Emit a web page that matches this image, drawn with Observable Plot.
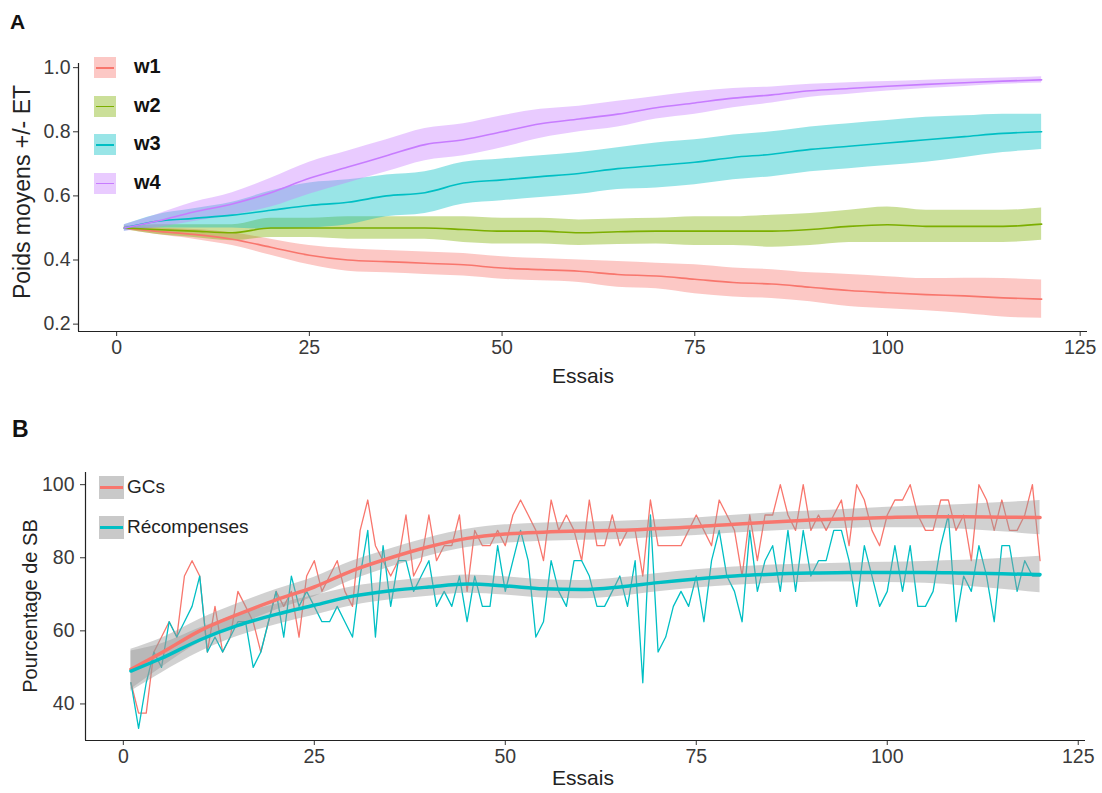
<!DOCTYPE html>
<html><head><meta charset="utf-8">
<script src="https://cdn.jsdelivr.net/npm/d3@7"></script>
<script src="https://cdn.jsdelivr.net/npm/@observablehq/plot@0.6"></script>
<style>
body{margin:0;background:#fff;}
#root{position:relative;width:1102px;height:793px;font-family:"Liberation Sans",Arial,sans-serif;color:#222;overflow:hidden;}
.abs{position:absolute;white-space:nowrap;}
.panel{position:absolute;left:0;}
</style></head><body>
<div id="root"></div>
<script>
// ---------- Panel A data ----------
const seriesA = ["w1","w2","w3","w4"];
const colorsA = ["#F8766D","#7CAE00","#00BFC4","#C77CFF"];
const trialsA = [1,5,10,15,20,25,30,35,40,45,50,55,60,65,70,75,80,85,90,95,100,105,110,115,120];
const w1Mean = [.50,.49,.48,.465,.44,.415,.40,.395,.39,.385,.375,.37,.365,.355,.35,.34,.33,.325,.315,.305,.298,.292,.288,.282,.278];
const w1SE   = [.005,.01,.015,.02,.025,.03,.035,.035,.035,.035,.035,.035,.035,.04,.04,.045,.045,.045,.045,.05,.05,.05,.055,.06,.06];
const w2Mean = [.50,.495,.49,.485,.50,.50,.50,.50,.50,.495,.49,.49,.485,.488,.49,.49,.49,.49,.495,.505,.51,.505,.505,.505,.512];
const w2SE   = [.005,.015,.02,.025,.03,.03,.035,.035,.035,.04,.04,.04,.04,.04,.04,.045,.045,.05,.05,.05,.055,.05,.05,.05,.05];
const w3Mean = [.50,.52,.53,.54,.555,.57,.58,.60,.61,.64,.65,.66,.67,.685,.695,.705,.72,.73,.745,.755,.765,.775,.785,.795,.80];
const w3SE   = [.01,.02,.03,.04,.06,.07,.07,.065,.065,.065,.065,.065,.065,.065,.07,.07,.07,.07,.07,.07,.07,.07,.065,.06,.055];
const w4Mean = [.50,.52,.55,.575,.61,.655,.69,.725,.76,.775,.80,.825,.84,.855,.875,.89,.905,.915,.928,.935,.942,.948,.953,.958,.962];
const w4SE   = [.01,.02,.03,.035,.045,.05,.05,.05,.05,.05,.05,.045,.04,.04,.035,.035,.03,.025,.02,.018,.015,.013,.012,.01,.01];
const yTicksA = [0.2,0.4,0.6,0.8,1.0];
const xTicks = [0,25,50,75,100,125];

// ---------- Panel B data ----------
const seriesB = ["GCs","Récompenses"];
const colorsB = ["#F8766D","#00BFC4"];
const gcs = [45.8,37.5,37.5,54.2,58.3,62.5,58.3,75,79.2,75,54.2,66.7,54.2,58.3,70.8,66.7,62.5,54.2,62.5,70.8,
66.7,70.8,58.3,75,79.2,70.8,75,79.2,70.8,66.7,87.5,95.8,83.3,79.2,75,79.2,91.7,75,79.2,91.7,
79.2,83.3,83.3,91.7,70.8,87.5,83.3,83.3,87.5,83.3,91.7,95.8,91.7,87.5,79.2,95.8,87.5,91.7,87.5,79.2,
95.8,83.3,83.3,91.7,83.3,87.5,87.5,75,95.8,83.3,83.3,83.3,83.3,87.5,91.7,87.5,83.3,95.8,91.7,87.5,
75,91.7,79.2,91.7,91.7,100,91.7,87.5,100,87.5,91.7,87.5,91.7,95.8,83.3,100,95.8,87.5,83.3,91.7,
95.8,95.8,100,91.7,87.5,87.5,95.8,95.8,87.5,91.7,79.2,100,95.8,87.5,95.8,87.5,87.5,91.7,100,79.2];
const recompenses = [45.8,33.3,45.8,54.2,50,62.5,58.3,62.5,66.7,75,54.2,58.3,54.2,58.3,62.5,62.5,50,54.2,62.5,70.8,
58.3,75,66.7,70.8,66.7,62.5,62.5,66.7,62.5,58.3,75,87.5,58.3,83.3,66.7,79.2,79.2,70.8,75,79.2,
66.7,70.8,66.7,75,62.5,75,66.7,66.7,83.3,70.8,79.2,87.5,79.2,58.3,62.5,79.2,70.8,66.7,79.2,79.2,
75,66.7,66.7,70.8,75,66.7,79.2,45.8,91.7,54.2,58.3,66.7,70.8,66.7,75,62.5,79.2,87.5,75,70.8,
62.5,87.5,70.8,79.2,83.3,70.8,87.5,70.8,87.5,75,79.2,79.2,87.5,87.5,79.2,66.7,83.3,75,66.7,70.8,
83.3,70.8,83.3,66.7,66.7,70.8,83.3,91.7,62.5,75,70.8,83.3,75,62.5,83.3,83.3,70.8,79.2,75,75];
const trialsSmooth = [1,5,10,15,20,25,30,35,40,45,50,55,60,65,70,75,80,85,90,95,100,105,110,115,120];
const gcsFit = [49.5,54,60,64.5,68.5,72,76.5,80,83,85.3,86.5,87,87.3,87.5,88,88.5,89.2,89.8,90.3,90.7,91,91.2,91.2,91.1,91];
const gcsSE  = [5.5,4,3.2,3,2.8,2.7,2.6,2.5,2.5,2.5,2.5,2.5,2.5,2.5,2.4,2.4,2.4,2.5,2.5,2.6,2.8,3,3.4,4,4.7];
const recFit = [49,52.5,57.5,61.5,64.5,67,69.5,71,72,72.8,72.3,71.5,71.3,72,73.2,74.2,75,75.5,75.8,76,76,76,75.8,75.6,75.4];
const recSE  = [5.5,4,3.3,3,2.8,2.7,2.6,2.5,2.5,2.5,2.5,2.5,2.5,2.5,2.5,2.5,2.5,2.5,2.5,2.6,2.8,3,3.5,4.2,5];
const yTicksB = [40,60,80,100];

// ---------- build tables ----------
const meansA = [w1Mean,w2Mean,w3Mean,w4Mean], seA = [w1SE,w2SE,w3SE,w4SE];
const rowsA = [];
seriesA.forEach((s,i)=>trialsA.forEach((t,j)=>rowsA.push({series:s,t,mean:meansA[i][j],lo:meansA[i][j]-seA[i][j],hi:meansA[i][j]+seA[i][j]})));
const rawB = [];
[gcs,recompenses].forEach((arr,i)=>arr.forEach((v,j)=>rawB.push({series:seriesB[i],t:j+1,v})));
const fitB = [];
[[gcsFit,gcsSE],[recFit,recSE]].forEach(([f,se],i)=>trialsSmooth.forEach((t,j)=>fitB.push({series:seriesB[i],t,fit:f[j],lo:f[j]-se[j],hi:f[j]+se[j]})));

const FONT = '"Liberation Sans",Arial,sans-serif';
const xDom = [-4.95,125.95];
const yDomA = [0.177,1.013];
const yDomB = [30,103.33];
const root = document.getElementById("root");

const chartA = Plot.plot({
  width:1102,height:395,marginLeft:78,marginRight:15,marginTop:63,marginBottom:64,
  x:{domain:xDom},y:{domain:yDomA},
  color:{domain:seriesA,range:colorsA},
  style:{fontFamily:FONT,fontSize:"19.5px",color:"#3a3a3a",background:"transparent"},
  marks:[
    Plot.areaY(rowsA,{x:"t",y1:"lo",y2:"hi",fill:"series",fillOpacity:0.4,curve:"monotone-x"}),
    Plot.lineY(rowsA,{x:"t",y:"mean",stroke:"series",strokeWidth:1.6,curve:"monotone-x"}),
    Plot.axisX({ticks:xTicks,tickSize:5,tickPadding:4,label:null,stroke:"#333"}),
    Plot.axisY({ticks:yTicksA,tickFormat:d3.format(".1f"),tickSize:5,tickPadding:3,label:null,stroke:"#333"}),
    Plot.ruleX([xDom[0]],{stroke:"#222",strokeWidth:1.2}),
    Plot.ruleY([yDomA[0]],{stroke:"#222",strokeWidth:1.2})
  ]
});
chartA.classList.add("panel"); chartA.style.top="0px";
root.appendChild(chartA);

const chartB = Plot.plot({
  width:1102,height:398,marginLeft:85,marginRight:17,marginTop:77,marginBottom:53,
  x:{domain:xDom},y:{domain:yDomB},
  color:{domain:seriesB,range:colorsB},
  style:{fontFamily:FONT,fontSize:"19.5px",color:"#3a3a3a",background:"transparent"},
  marks:[
    Plot.lineY(rawB,{x:"t",y:"v",stroke:"series",strokeWidth:1.3}),
    Plot.areaY(fitB,{x:"t",y1:"lo",y2:"hi",z:"series",fill:"#999999",fillOpacity:0.45,curve:"monotone-x"}),
    Plot.lineY(fitB,{x:"t",y:"fit",stroke:"series",strokeWidth:3.5,curve:"monotone-x"}),
    Plot.axisX({ticks:xTicks,tickSize:5,tickPadding:4,label:null,stroke:"#333"}),
    Plot.axisY({ticks:yTicksB,tickSize:5,tickPadding:6,label:null,stroke:"#333"}),
    Plot.ruleX([xDom[0]],{stroke:"#222",strokeWidth:1.2}),
    Plot.ruleY([yDomB[0]],{stroke:"#222",strokeWidth:1.2})
  ]
});
chartB.classList.add("panel"); chartB.style.top="395px";
root.appendChild(chartB);

function addText(txt,left,top,css){
  const d=document.createElement("div");d.className="abs";d.textContent=txt;
  d.style.left=left+"px";d.style.top=top+"px";Object.assign(d.style,css||{});root.appendChild(d);return d;
}
// panel letters
addText("A",10,10,{fontSize:"21px",fontWeight:"bold",color:"#111"});
addText("B",12,416,{fontSize:"23px",fontWeight:"bold",color:"#111"});
// axis titles
addText("Essais",583,364,{fontSize:"21px",transform:"translateX(-50%)",color:"#222"});
addText("Essais",583,766,{fontSize:"21px",transform:"translateX(-50%)",color:"#222"});
addText("Poids moyens +/- ET",22,192,{fontSize:"23px",transform:"translate(-50%,-50%) rotate(-90deg)",color:"#222"});
addText("Pourcentage de SB",30,606,{fontSize:"20px",transform:"translate(-50%,-50%) rotate(-90deg)",color:"#222"});

// legend A
seriesA.forEach((s,i)=>{
  const y=57+i*38.5;
  const k=document.createElement("div");k.className="abs";
  Object.assign(k.style,{left:"94px",top:y+"px",width:"22px",height:"21px",background:colorsA[i],opacity:"0.4"});
  root.appendChild(k);
  const l=document.createElement("div");l.className="abs";
  Object.assign(l.style,{left:"96px",top:(y+10)+"px",width:"18px",height:"1.6px",background:colorsA[i]});
  root.appendChild(l);
  addText(s,134,y-2,{fontSize:"20px",fontWeight:"bold",color:"#111"});
});
// legend B
seriesB.forEach((s,i)=>{
  const y=476+i*40;
  const k=document.createElement("div");k.className="abs";
  Object.assign(k.style,{left:"99px",top:y+"px",width:"25px",height:"23px",background:"#c9c9c9"});
  root.appendChild(k);
  const l=document.createElement("div");l.className="abs";
  Object.assign(l.style,{left:"100px",top:(y+10)+"px",width:"23px",height:"3px",background:colorsB[i]});
  root.appendChild(l);
  addText(s,127,y,{fontSize:"19px",color:"#222"});
});
</script>
</body></html>
